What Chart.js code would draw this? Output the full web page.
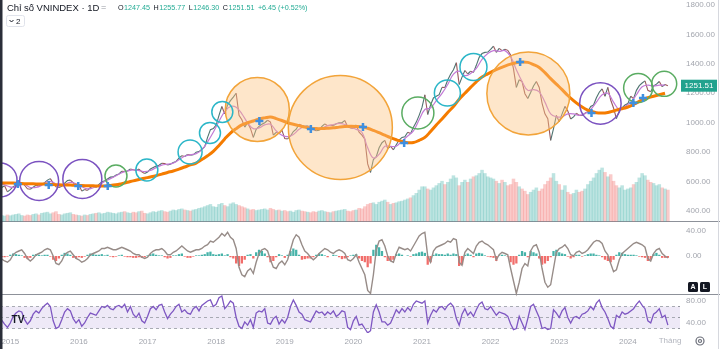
<!DOCTYPE html>
<html>
<head>
<meta charset="utf-8">
<script src="https://cdn.jsdelivr.net/npm/chart.js@4.4.1/dist/chart.umd.min.js"></script>
<style>
  body { margin: 0; background: #fff; }
  #khung { width: 720px; height: 349px; position: relative; }
</style>
</head>
<body>
<div id="khung"><canvas id="bieuDo"></canvas></div>
<script>
// Dữ liệu: VNINDEX 11/2014 -> 7/2024
// chuỗi nửa tháng (giữa tháng, cuối tháng) và chuỗi theo tháng
const batDau = 2014 + 10 / 12;
const yearTicks = [2015, 2016, 2017, 2018, 2019, 2020, 2021, 2022, 2023, 2024];
const priceTicks = [400, 600, 800, 1000, 1200, 1400, 1600, 1800];
const macdTicks = [0, 40];
const rsiTicks = [40, 80];
const rsiBand = [70, 50, 30];
const headerValues = ['1247.45', '1255.77', '1246.30', '1251.51'];
const headerChange = '+6.45 (+0.52%)';
const lastClose = 1251.51;

const price = [
  560, 572, 530, 545,
  565, 576, 590, 593, 575, 551, 548, 562, 575, 569, 580, 593, 610, 620, 590, 564, 560, 568, 590, 607, 610, 592, 570, 579,
  535, 546, 540, 560, 570, 561, 580, 597, 605, 618, 630, 632, 645, 652, 670, 668, 672, 685, 680, 675, 685, 666, 655, 665,
  685, 695, 705, 711, 725, 722, 712, 718, 730, 737, 760, 776, 770, 784, 780, 782, 800, 804, 820, 837, 900, 953, 960, 984,
  1050, 1110, 1060, 1121, 1150, 1174, 1200, 1050, 1020, 970, 1000, 961, 900, 955, 975, 989, 1000, 1017, 1005, 915, 935, 926, 950, 892,
  890, 910, 940, 956, 990, 981, 975, 980, 960, 954, 945, 949, 975, 992, 980, 983, 980, 993, 1000, 1000, 1015, 972, 965, 961,
  985, 936, 915, 889, 720, 662, 750, 769, 830, 864, 880, 825, 840, 816, 850, 882, 900, 905, 935, 926, 970, 1004, 1050, 1104,
  1190, 1056, 1120, 1168, 1180, 1191, 1240, 1239, 1290, 1329, 1360, 1408, 1260, 1310, 1355, 1331, 1350, 1342, 1390, 1444, 1470, 1478, 1480, 1498,
  1520, 1478, 1505, 1490, 1500, 1492, 1460, 1366, 1240, 1292, 1280, 1197, 1165, 1206, 1250, 1280, 1240, 1132, 1060, 1027, 880, 960, 1050, 1007,
  1060, 1111, 1080, 1025, 1040, 1064, 1050, 1049, 1065, 1075, 1110, 1120, 1170, 1207, 1230, 1180, 1240, 1154, 1100, 1028, 1080, 1102, 1120, 1130,
  1180, 1164, 1220, 1252, 1270, 1284, 1220, 1210, 1250, 1262, 1280, 1245, 1260, 1251.51
];

const volume = [
  100, 90, 110, 95,
  110, 120, 130, 100, 90, 110, 100, 120, 130, 110, 140, 150, 160, 130, 150, 170, 120, 110, 130, 140, 150, 120, 110, 100,
  90, 110, 100, 120, 130, 140, 150, 130, 140, 160, 150, 140, 130, 150, 160, 170, 150, 140, 160, 150, 170, 180, 140, 130,
  150, 170, 160, 180, 190, 170, 160, 180, 200, 190, 210, 220, 200, 190, 180, 200, 210, 230, 240, 260, 280, 300, 260, 250,
  300, 320, 280, 260, 310, 330, 300, 280, 260, 240, 220, 200, 210, 190, 200, 210, 220, 200, 230, 210, 190, 200, 180, 190,
  170, 180, 160, 190, 200, 180, 170, 160, 150, 170, 160, 180, 190, 170, 160, 150, 170, 180, 190, 200, 210, 180, 170, 190,
  200, 230, 220, 260, 300, 320, 330, 300, 340, 360, 380, 340, 300, 320, 330, 350, 360, 380, 400, 420, 460, 500, 560, 620,
  620, 580, 560, 600, 640, 680, 720, 660, 700, 760, 820, 780, 640, 700, 740, 700, 760, 800, 820, 860, 920, 860, 800, 780,
  760, 720, 680, 740, 700, 640, 660, 760, 700, 620, 580, 540, 480, 520, 560, 600, 540, 580, 660, 720, 780, 860, 720, 660,
  560, 640, 520, 480, 500, 560, 520, 540, 580, 660, 720, 780, 860, 920, 960, 880, 800, 840, 720, 640, 600, 640, 560, 580,
  600, 660, 700, 780, 860, 820, 740, 700, 680, 640, 660, 600, 580, 560
];

const ma50 = [
  585, 570,
  560, 575, 580, 560, 560, 575, 600, 595, 570, 580, 595, 585,
  565, 550, 558, 575, 600, 620, 640, 660, 672, 680, 675, 668,
  675, 695, 712, 718, 725, 748, 772, 782, 790, 815, 870, 935,
  1010, 1075, 1110, 1105, 1060, 1000, 960, 965, 985, 990, 945, 915,
  905, 920, 955, 975, 970, 958, 965, 980, 988, 995, 988, 970,
  955, 935, 830, 760, 785, 840, 840, 840, 875, 910, 945, 1020,
  1090, 1100, 1150, 1200, 1260, 1330, 1350, 1320, 1335, 1370, 1430, 1470,
  1490, 1485, 1490, 1450, 1360, 1280, 1220, 1225, 1210, 1140, 1060, 1040,
  1040, 1060, 1060, 1050, 1062, 1090, 1140, 1190, 1200, 1140, 1090, 1110,
  1140, 1190, 1245, 1255, 1250, 1255, 1255
];

const ma200 = [
  590, 590,
  590, 588, 586, 585, 584, 583, 582, 580, 578, 577, 576, 575,
  573, 572, 571, 570, 570, 573, 578, 586, 595, 605, 614, 623,
  631, 640, 651, 662, 672, 685, 699, 713, 726, 750, 775, 805,
  845, 890, 930, 960, 985, 1000, 1012, 1025, 1033, 1039, 1028, 1015,
  1000, 990, 980, 970, 963, 960, 960, 962, 965, 970, 974, 976,
  975, 972, 962, 948, 932, 915, 898, 884, 872, 864, 865, 880,
  900, 940, 985, 1025, 1070, 1110, 1160, 1200, 1240, 1278, 1310, 1332,
  1352, 1370, 1385, 1398, 1408, 1413, 1410, 1395, 1375, 1340, 1300, 1262,
  1225, 1185, 1150, 1120, 1095, 1078, 1068, 1066, 1070, 1080, 1092, 1100,
  1115, 1134, 1155, 1170, 1180, 1190, 1200
];

const macd = [
  -5, -8, -10, -6,
  2, 6, 8, 10, 4, -4, -8, -4, 2, 4, 6, 10, 12, 10, 0, -12, -14, -8, 2, 6, 8, 2, -4, -6,
  -10, -8, -4, 2, 4, 6, 8, 12, 12, 14, 12, 10, 10, 12, 14, 12, 10, 8, 4, 2, 2, -2, -4, -2,
  4, 8, 10, 10, 12, 8, 2, 2, 6, 8, 12, 16, 12, 8, 6, 8, 10, 10, 12, 16, 18, 24, 22, 26,
  30, 36, 32, 38, 30, 26, 12, -18, -30, -33, -24, -20, -28, -10, 4, 10, 12, 8, -6, -18, -20, -12, -8, -14,
  -6, 10, 26, 34, 30, 18, 8, 4, -2, -6, -2, 4, 8, 12, 10, 6, 4, 8, 10, 8, 4, -6, -8, -4,
  2, -10, -20, -30, -55, -60, -30, 10, 24, 26, 16, 0, -8, -10, 4, 14, 12, 10, 12, 8, 16, 24, 32, 36,
  38, 0, -10, 8, 14, 16, 18, 20, 24, 22, 28, 26, -10, -15, 6, 12, 8, 4, 16, 22, 24, 20, 18, 14,
  10, -6, 2, 6, 4, 2, -20, -40, -60, -42, -20, -12, -16, 8, 16, 18, 6, -20, -42, -50, -46, -20, 6, 12,
  14, 18, 12, 2, 0, 6, 8, 4, 6, 10, 16, 22, 25, 24, 20, 8, 2, -12, -25, -22, -6, 4, 8, 12,
  16, 20, 22, 20, 18, 14, -4, -8, 4, 10, 12, 4, 0, -3
];

const macdHist = [
  -2, -2, -1, 2,
  4, 3, 2, 1, -3, -5, -3, 2, 3, 2, 1, 2, 2, -1, -6, -8, -4, 2, 5, 4, 2, -3, -4, -2,
  -3, -1, 2, 4, 3, 2, 2, 3, 1, 2, -1, -2, -1, 1, 2, -1, -2, -2, -3, -3, -2, -3, -2, 1,
  3, 4, 2, 1, 1, -2, -4, -3, 1, 1, 3, 4, -1, -3, -3, -1, 1, 1, 2, 3, 6, 7, 3, 2,
  3, 4, 1, 3, -2, -4, -12, -16, -12, -6, 2, 3, -4, 6, 10, 8, 4, -2, -10, -8, -2, 3, 1, -3,
  2, 8, 12, 10, 2, -6, -5, -4, -4, -2, 2, 4, 3, 1, -2, 0, 2, 1, -2, -5, -4, -2, 1, 2,
  3, -4, -8, -10, -18, -12, 10, 18, 14, 8, -2, -8, -8, -6, 3, 4, 2, 0, 1, -1, 3, 4, 6, 7,
  5, -14, -10, 2, 4, 3, 3, 2, 4, 2, 4, 3, -16, -14, 2, 4, 2, -2, 4, 5, 4, 1, -1, -2,
  -3, -8, 1, 2, 1, -1, -10, -14, -12, 2, 8, 6, -2, 8, 6, 4, -4, -14, -12, -8, -2, 8, 10, 6,
  4, 3, -1, -4, -2, 2, 2, -1, 1, 3, 4, 4, 2, 1, -2, -6, -8, -10, -6, 2, 6, 5, 3, 2,
  2, 2, 1, -1, -2, -3, -8, -6, 3, 5, 2, -3, -3, -3
];

const rsi = [
  45, 38, 32, 40,
  52, 58, 62, 60, 46, 38, 44, 56, 62, 58, 66, 72, 76, 70, 44, 30, 33, 46, 60, 66, 62, 48, 40, 46,
  34, 40, 50, 58, 56, 54, 62, 70, 68, 72, 66, 64, 70, 72, 68, 74, 60, 70, 56, 50, 58, 44, 40, 52,
  66, 70, 64, 72, 74, 60, 48, 56, 62, 70, 74, 60, 64, 58, 56, 66, 70, 62, 72, 76, 80, 82, 70, 74,
  86, 89, 66, 72, 80, 76, 50, 34, 30, 42, 36, 46, 32, 58, 62, 60, 66, 40, 38, 48, 52, 38, 46, 40,
  50, 70, 82, 72, 60, 56, 46, 44, 42, 52, 62, 58, 60, 54, 60, 56, 62, 52, 56, 62, 60, 32, 28, 44,
  52, 36, 38, 30, 22, 26, 60, 73, 60, 42, 42, 36, 40, 52, 64, 58, 66, 60, 68, 62, 74, 80, 78, 76,
  80, 40, 54, 64, 60, 68, 70, 64, 72, 76, 70, 48, 36, 56, 66, 54, 60, 52, 64, 74, 78, 66, 64, 70,
  62, 54, 60, 58, 56, 52, 38, 28, 30, 52, 40, 28, 48, 70, 74, 62, 50, 30, 32, 28, 30, 64, 58, 50,
  62, 68, 50, 40, 50, 52, 48, 56, 58, 62, 70, 64, 76, 82, 68, 60, 48, 34, 30, 54, 50, 60, 56, 58,
  62, 66, 74, 80, 72, 66, 44, 40, 56, 60, 66, 50, 54, 36
];

// vòng tròn đánh dấu: [năm, giá, bán kính]
const purpleCircles = [[2014.85, 611, 17], [2015.42, 604, 19.5], [2016.05, 618, 19.5], [2023.6, 1131, 20.7]];
const greenCircles = [[2016.54, 638, 11], [2020.94, 1066, 16], [2024.15, 1236, 14.5], [2024.53, 1264, 12.5]];
const cyanCircles = [[2016.99, 679, 11], [2017.62, 801, 12], [2017.91, 930, 10.5], [2018.09, 1073, 10.5], [2021.37, 1202, 13], [2021.75, 1379, 13.5]];
const orangeCircles = [[2018.6, 1090, 32], [2019.81, 968, 52], [2022.55, 1199, 41.5]];
// điểm giao cắt (dấu +)
const crossYears = [2015.11, 2015.56, 2015.99, 2016.42, 2018.63, 2019.38, 2020.14, 2020.74, 2022.43, 2023.47, 2024.08, 2024.22];
const crossPrices = [584, 577, 570, 570, 1012, 958, 971, 862, 1413, 1066, 1134, 1168];

// ---- dựng dữ liệu cho Chart.js ----
const nuaThang = k => batDau + (k + 1) / 24;
const thang = i => batDau + (i + 0.5) / 12;
const theoNuaThang = arr => arr.map((v, k) => ({ x: nuaThang(k), y: v }));
const theoThang = arr => arr.map((v, i) => ({ x: thang(i), y: v }));
const vongTron = arr => arr.map(c => ({ x: c[0], y: c[1], r: c[2] }));

const mauVolume = price.map((v, k) => (k === 0 || v >= price[k - 1]) ? 'rgba(38,166,154,0.3)' : 'rgba(239,83,80,0.3)');
const mauHist = macdHist.map(v => v >= 0 ? 'rgba(38,166,154,0.85)' : 'rgba(239,83,80,0.85)');

const font = 'Liberation Sans, Arial, sans-serif';
const mauChu = '#a3a6ae';
Chart.defaults.font.family = font;

function trucAn(min, max) {
  return { type: 'linear', display: false, min: min, max: max };
}

const trangTri = {
  id: 'trangTri',
  beforeDatasetsDraw(chart) {
    const { ctx, chartArea: a, scales } = chart;
    ctx.save();
    const y70 = scales.yR.getPixelForValue(rsiBand[0]);
    const y30 = scales.yR.getPixelForValue(rsiBand[2]);
    ctx.fillStyle = 'rgba(126,87,194,0.13)';
    ctx.fillRect(a.left, y70, a.right - a.left, y30 - y70);
    ctx.strokeStyle = '#9598a1';
    ctx.lineWidth = 0.8;
    ctx.setLineDash([3, 3]);
    rsiBand.forEach(v => {
      const y = Math.round(scales.yR.getPixelForValue(v)) + 0.5;
      ctx.beginPath(); ctx.moveTo(a.left, y); ctx.lineTo(a.right, y); ctx.stroke();
    });
    ctx.setLineDash([]);
    ctx.strokeStyle = '#8d9199';
    ctx.lineWidth = 1;
    [221.5, 294.5].forEach(y => {
      ctx.beginPath(); ctx.moveTo(0, y); ctx.lineTo(720, y); ctx.stroke();
    });
    ctx.restore();
  },
  afterDraw(chart) {
    const { ctx, chartArea: a, scales } = chart;
    ctx.save();
    ctx.textBaseline = 'middle';
    ctx.textAlign = 'left';
    // nhãn trục MACD / RSI
    ctx.font = '8px ' + font;
    ctx.fillStyle = mauChu;
    macdTicks.forEach(v => ctx.fillText(v.toFixed(2), a.right + 6, scales.yM.getPixelForValue(v)));
    rsiTicks.forEach(v => ctx.fillText(v.toFixed(2), a.right + 6, scales.yR.getPixelForValue(v)));
    // tiêu đề
    ctx.font = '9.5px ' + font;
    ctx.fillStyle = '#131722';
    ctx.fillText('Chỉ số VNINDEX · 1D', 7, 8);
    ctx.fillStyle = '#9598a1';
    ctx.font = '9px ' + font;
    ctx.fillText('=', 101, 8);
    let x = 118;
    ctx.font = '7.2px ' + font;
    ['O', 'H', 'L', 'C'].forEach((k, i) => {
      ctx.fillStyle = '#131722'; ctx.fillText(k, x, 8); x += ctx.measureText(k).width + 0.5;
      ctx.fillStyle = '#22ab94'; ctx.fillText(headerValues[i], x, 8); x += ctx.measureText(headerValues[i]).width + 3.5;
    });
    ctx.fillText(headerChange, x, 8);
    // nút "2"
    ctx.strokeStyle = '#e0e3eb'; ctx.lineWidth = 1;
    ctx.beginPath(); ctx.roundRect(6.5, 15.5, 18, 11, 2); ctx.stroke();
    ctx.strokeStyle = '#131722';
    ctx.beginPath(); ctx.moveTo(9.5, 20); ctx.lineTo(11.5, 22); ctx.lineTo(13.5, 20); ctx.stroke();
    ctx.fillStyle = '#131722'; ctx.font = '8px ' + font;
    ctx.fillText('2', 16, 21.5);
    // nhãn giá cuối
    const yc = scales.yP.getPixelForValue(lastClose);
    ctx.fillStyle = '#22a28e';
    ctx.fillRect(681, yc - 6, 36, 12);
    ctx.fillStyle = '#fff'; ctx.font = '8px ' + font; ctx.textAlign = 'center';
    ctx.fillText(lastClose.toFixed(2), 699, yc + 0.5);
    // nút A, L
    ['A', 'L'].forEach((t, i) => {
      const bx = 688 + i * 12;
      ctx.fillStyle = '#131722';
      ctx.beginPath(); ctx.roundRect(bx, 282, 10, 10, 1.5); ctx.fill();
      ctx.fillStyle = '#fff'; ctx.font = 'bold 7px ' + font;
      ctx.fillText(t, bx + 5, 287.5);
    });
    // logo, "Tháng", bánh răng
    ctx.fillStyle = '#131722'; ctx.font = 'bold 10px ' + font;
    ctx.fillText('TV', 18, 320);
    ctx.fillStyle = '#b2b5be'; ctx.font = '8px ' + font;
    ctx.fillText('Tháng', 670, 341);
    ctx.strokeStyle = '#6a6d78'; ctx.lineWidth = 1.2;
    ctx.beginPath(); ctx.arc(700, 341, 4, 0, Math.PI * 2); ctx.stroke();
    ctx.beginPath(); ctx.arc(700, 341, 1.5, 0, Math.PI * 2); ctx.stroke();
    // viền
    ctx.fillStyle = '#2a2e39';
    ctx.fillRect(0, 0, 2.5, 349);
    ctx.fillStyle = '#d6d8de';
    ctx.fillRect(718, 0, 1, 349);
    ctx.restore();
  }
};

new Chart(document.getElementById('bieuDo'), {
  type: 'line',
  data: {
    datasets: [
      { type: 'bar', data: theoNuaThang(volume), yAxisID: 'yV', backgroundColor: mauVolume,
        barPercentage: 1, categoryPercentage: 1, grouped: false, order: 10 },
      { data: theoNuaThang(price), yAxisID: 'yP', borderWidth: 1.1, pointRadius: 0, order: 7,
        segment: { borderColor: c => c.p1.parsed.y >= c.p0.parsed.y ? '#4f7370' : '#9a5a5d' } },
      { data: theoThang(ma50), yAxisID: 'yP', borderColor: '#c27ad6', borderWidth: 1.2,
        pointRadius: 0, tension: 0.4, order: 6 },
      { data: theoThang(ma200), yAxisID: 'yP', borderColor: '#f57c00', borderWidth: 3,
        pointRadius: 0, tension: 0.4, order: 5 },
      { type: 'bubble', data: vongTron(orangeCircles), yAxisID: 'yP', borderColor: '#f2a43a',
        backgroundColor: 'rgba(252,196,128,0.42)', borderWidth: 1.5, order: 4 },
      { type: 'bubble', data: vongTron(purpleCircles), yAxisID: 'yP', borderColor: '#7b52c0',
        backgroundColor: 'rgba(0,0,0,0)', borderWidth: 1.5, order: 3 },
      { type: 'bubble', data: vongTron(greenCircles), yAxisID: 'yP', borderColor: '#5aac62',
        backgroundColor: 'rgba(0,0,0,0)', borderWidth: 1.5, order: 3 },
      { type: 'bubble', data: vongTron(cyanCircles), yAxisID: 'yP', borderColor: '#2bb6c8',
        backgroundColor: 'rgba(0,0,0,0)', borderWidth: 1.5, order: 3 },
      { type: 'scatter', data: crossYears.map((t, i) => ({ x: t, y: crossPrices[i] })), yAxisID: 'yP',
        pointStyle: 'cross', pointRadius: 4, pointBorderWidth: 2.5, pointBorderColor: '#3f8fdf', order: 1 },
      { type: 'bar', data: theoNuaThang(macdHist), yAxisID: 'yM', backgroundColor: mauHist,
        barPercentage: 0.8, categoryPercentage: 1, grouped: false, order: 9 },
      { data: theoNuaThang(macd), yAxisID: 'yM', borderColor: '#978c88', borderWidth: 1.4,
        pointRadius: 0, order: 8 },
      { data: theoNuaThang(rsi), yAxisID: 'yR', borderColor: '#7e57c2', borderWidth: 1.3,
        pointRadius: 0, order: 8 }
    ]
  },
  options: {
    responsive: true,
    maintainAspectRatio: false,
    animation: false,
    events: [],
    layout: { padding: 0, autoPadding: false },
    plugins: { legend: { display: false }, tooltip: { enabled: false } },
    scales: {
      x: {
        type: 'linear', min: 2014.85, max: 2024.76, offset: false,
        grid: { display: false, drawTicks: false }, border: { display: false },
        ticks: { color: mauChu, font: { size: 8 }, padding: 4, maxRotation: 0, autoSkip: false,
                 callback: v => String(v) },
        afterBuildTicks: ax => { ax.ticks = yearTicks.map(v => ({ value: v })); },
        afterFit: ax => { ax.height = 16; ax.paddingLeft = 0; ax.paddingRight = 0; }
      },
      yP: {
        type: 'linear', position: 'right', min: -429.1, max: 1833.98,
        grid: { display: false, drawTicks: false }, border: { display: false },
        ticks: { color: mauChu, font: { size: 8 }, padding: 6, callback: v => v.toFixed(2) },
        afterBuildTicks: ax => { ax.ticks = priceTicks.map(v => ({ value: v })); },
        afterFit: ax => { ax.width = 40; ax.paddingTop = 0; ax.paddingBottom = 0; }
      },
      yM: trucAn(-123.2, 409.6),
      yR: trucAn(21.8, 627.3),
      yV: trucAn(-2027, 4000)
    }
  },
  plugins: [trangTri]
});
</script>
</body>
</html>
